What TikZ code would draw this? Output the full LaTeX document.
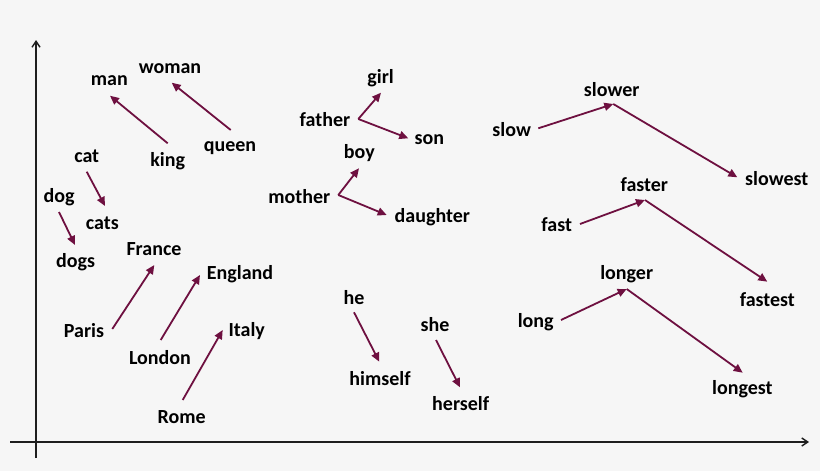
\documentclass[tikz,border=0pt]{standalone}
\usepackage{fontspec}
\setmainfont{Carlito}
\usetikzlibrary{arrows.meta}
\definecolor{bgc}{RGB}{246,246,246}
\definecolor{arr}{RGB}{110,16,64}
\definecolor{axc}{RGB}{30,30,30}
\tikzset{
  word/.style={font=\fontsize{20}{24}\selectfont\bfseries, text=black, inner sep=0pt},
  vec/.style={draw=arr, line width=1.8pt, -{Triangle[length=9pt,width=8pt]}},
  axis/.style={draw=axc, line width=1.4pt, -{Straight Barb[length=6pt,width=8pt]}}
}
\begin{document}
\begin{tikzpicture}[x=1pt,y=-1pt]
\fill[bgc] (0,0) rectangle (820,471);
\useasboundingbox (0,0) rectangle (820,471);
% axes
\coordinate (xs) at (10,442);
\coordinate (xe) at (809,442);
\coordinate (ys) at (36,458);
\coordinate (ye) at (36,40);
\draw[axis] (xs) -- (xe);
\draw[axis] (ys) -- (ye);
% words
\node[word] (man) at (109.3,80.7) {man};
\node[word] (woman) at (170,68.3) {woman};
\node[word] (king) at (167.7,160.7) {king};
\node[word] (queen) at (230,148.3) {queen};
\node[word] (cat) at (86.7,156.7) {cat};
\node[word] (cats) at (102.3,223.3) {cats};
\node[word] (dog) at (59,197.3) {dog};
\node[word] (dogs) at (75.7,261.7) {dogs};
\node[word] (France) at (154,249.3) {France};
\node[word] (England) at (240,274.3) {England};
\node[word] (Paris) at (84,330.7) {Paris};
\node[word] (London) at (160,357.3) {London};
\node[word] (Italy) at (246.7,330.7) {Italy};
\node[word] (Rome) at (181.7,417.3) {Rome};
\node[word] (girl) at (380.7,78.3) {girl};
\node[word] (father) at (325,120) {father};
\node[word] (son) at (429.3,140) {son};
\node[word] (boy) at (359.3,153.3) {boy};
\node[word] (mother) at (299.3,196.7) {mother};
\node[word] (daughter) at (432.3,216.7) {daughter};
\node[word] (he) at (354,297.3) {he};
\node[word] (she) at (435,325) {she};
\node[word] (himself) at (380,378.3) {himself};
\node[word] (herself) at (460.7,404) {herself};
\node[word] (slow) at (511.7,130) {slow};
\node[word] (slower) at (611.7,90) {slower};
\node[word] (slowest) at (776.7,178.3) {slowest};
\node[word] (fast) at (556.7,225) {fast};
\node[word] (faster) at (644.3,185) {faster};
\node[word] (fastest) at (767.3,299.3) {fastest};
\node[word] (long) at (535.7,321.7) {long};
\node[word] (longer) at (626.7,274) {longer};
\node[word] (longest) at (742.3,389.3) {longest};
% arrow end points
\coordinate (kingT) at (167.7,143.3);  \coordinate (manH) at (110,95.7);
\coordinate (queenT) at (230.7,130);   \coordinate (womanH) at (171.7,82.7);
\coordinate (catT) at (86.7,171.7);    \coordinate (catsH) at (105,206);
\coordinate (dogT) at (59,212);        \coordinate (dogsH) at (75,245);
\coordinate (parisT) at (112.3,329);   \coordinate (franceH) at (154.3,265);
\coordinate (londonT) at (160.7,340);  \coordinate (englandH) at (200,275);
\coordinate (romeT) at (182.7,400);    \coordinate (italyH) at (222.7,330);
\coordinate (fatherV) at (358.3,119);  \coordinate (girlH) at (381,92.7); \coordinate (sonH) at (408.3,138.3);
\coordinate (motherV) at (338.3,195);  \coordinate (boyH) at (359,168.3); \coordinate (daughterH) at (386.7,215);
\coordinate (heT) at (354,312.3);      \coordinate (himselfH) at (379.3,361.7);
\coordinate (sheT) at (436,340);       \coordinate (herselfH) at (460,387.3);
\coordinate (slowT) at (538.3,128.3);  \coordinate (slowerV) at (613.3,104); \coordinate (slowestH) at (737.3,177.3);
\coordinate (fastT) at (580,224);      \coordinate (fasterV) at (645,200);   \coordinate (fastestH) at (767.3,281.7);
\coordinate (longT) at (561,320);      \coordinate (longerV) at (626.7,289); \coordinate (longestH) at (742.7,372.7);
% vectors
\draw[vec] (kingT) -- (manH);
\draw[vec] (queenT) -- (womanH);
\draw[vec] (catT) -- (catsH);
\draw[vec] (dogT) -- (dogsH);
\draw[vec] (parisT) -- (franceH);
\draw[vec] (londonT) -- (englandH);
\draw[vec] (romeT) -- (italyH);
\draw[vec] (fatherV) -- (girlH);
\draw[vec] (fatherV) -- (sonH);
\draw[vec] (motherV) -- (boyH);
\draw[vec] (motherV) -- (daughterH);
\draw[vec] (heT) -- (himselfH);
\draw[vec] (sheT) -- (herselfH);
\draw[vec] (slowT) -- (slowerV);
\draw[vec] (slowerV) -- (slowestH);
\draw[vec] (fastT) -- (fasterV);
\draw[vec] (fasterV) -- (fastestH);
\draw[vec] (longT) -- (longerV);
\draw[vec] (longerV) -- (longestH);
\end{tikzpicture}
\end{document}
